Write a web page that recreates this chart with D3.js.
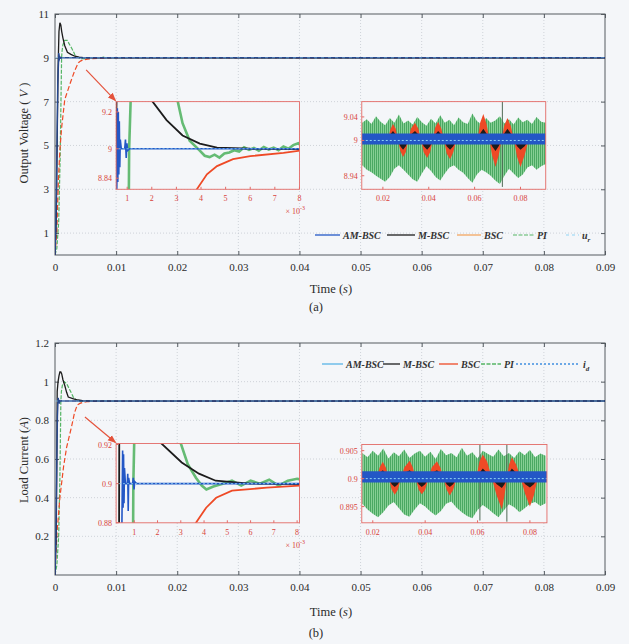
<!DOCTYPE html>
<html><head><meta charset="utf-8">
<script src="https://cdn.jsdelivr.net/npm/d3@7"></script>
<style>
html,body{margin:0;padding:0;background:#f4f6f9;}
svg{display:block;font-family:"Liberation Serif","Times New Roman",serif;}
</style></head><body>
<svg id="chart" width="629" height="644"></svg>
<script>
// ---------------- data ----------------
const timeTicks = [0, 0.01, 0.02, 0.03, 0.04, 0.05, 0.06, 0.07, 0.08, 0.09];
const timeTickLabels = ["0", "0.01", "0.02", "0.03", "0.04", "0.05", "0.06", "0.07", "0.08", "0.09"];
const voltTicks = [1, 3, 5, 7, 9, 11];
const voltTickLabels = ["1", "3", "5", "7", "9", "11"];
const currTicks = [0.2, 0.4, 0.6, 0.8, 1, 1.2];
const currTickLabels = ["0.2", "0.4", "0.6", "0.8", "1", "1.2"];
const seriesNames = ["AM-BSC", "M-BSC", "BSC", "PI"];

const voltRef = 9;     // u_r
const currRef = 0.9;   // i_d

// start-up transient of the output voltage (time in ms)
const vAmT  = [0, 0.15, 0.3, 0.45, 0.55, 0.58, 0.6, 0.62, 0.64, 0.66, 0.68, 0.7, 0.72, 0.76, 0.9, 0.93, 0.96, 0.99, 1.02, 1.1, 90];
const vAmV  = [0, 1.5, 4.5, 7.8, 8.6, 8.8, 9.22, 8.82, 9.2, 8.86, 9.15, 8.9, 9.05, 9.0, 9.0, 9.05, 8.95, 9.03, 8.99, 9.0, 9.0];
const vMT   = [0, 0.2, 0.35, 0.5, 0.65, 0.8, 0.95, 1.1, 1.3, 1.6, 2.03, 2.6, 3.25, 3.95, 4.65, 6.0, 8.0, 90];
const vMV   = [0, 1.5, 5.0, 8.5, 10.2, 10.6, 10.5, 10.2, 9.9, 9.55, 9.256, 9.156, 9.072, 9.028, 9.006, 9.0, 8.998, 9.0];
const vBscT = [0, 0.3, 0.55, 0.8, 1.1, 1.6, 2.5, 3.2, 3.83, 4.24, 4.65, 5.3, 6.0, 7.35, 8.05, 10, 90];
const vBscV = [0, 1.1, 3.4, 4.8, 5.85, 7.1, 7.85, 8.4, 8.78, 8.861, 8.906, 8.944, 8.96, 8.978, 8.99, 8.998, 9.0];
const vPiT  = [0, 0.3, 0.6, 0.85, 1.0, 1.08, 1.15, 1.3, 1.6, 2.0, 2.4, 2.8, 3.05, 3.25, 3.54, 3.95, 4.15, 4.35, 4.55, 4.75,
               4.95, 5.15, 5.35, 5.55, 5.75, 5.95, 6.15, 6.35, 6.55, 6.75, 6.95, 7.15, 7.35, 7.55, 7.75, 7.95, 8.2, 9, 90];
const vPiV  = [0, 0.3, 1.5, 4.5, 7.5, 9.0, 9.3, 9.6, 9.8, 9.8, 9.6, 9.4, 9.26, 9.139, 9.044, 8.99, 8.962, 8.955, 8.968, 8.952,
               8.974, 8.98, 8.992, 8.985, 9.008, 8.994, 9.004, 8.99, 9.01, 8.996, 9.006, 8.992, 9.012, 9.0, 9.02, 9.03, 9.0, 9.0, 9.0];

// start-up transient of the load current (time in ms)
const iAmT  = [0, 0.15, 0.3, 0.4, 0.47, 0.5, 0.52, 0.54, 0.56, 0.58, 0.62, 0.7, 0.72, 0.74, 0.76, 0.8, 0.93, 0.96, 0.99, 1.02, 1.1, 90];
const iAmV  = [0, 0.2, 0.6, 0.82, 0.88, 0.917, 0.8877, 0.915, 0.89, 0.908, 0.9, 0.9, 0.905, 0.886, 0.903, 0.9, 0.9, 0.903, 0.897, 0.901, 0.9, 0.9];
const iMT   = [0, 0.2, 0.3, 0.36, 0.5, 0.65, 0.8, 0.95, 1.1, 1.3, 1.6, 1.9, 2.17, 3.04, 3.78, 4.5, 5.96, 8.1, 90];
const iMV   = [0, 0.2, 0.6, 0.95, 1.0, 1.03, 1.05, 1.05, 1.04, 1.01, 0.98, 0.945, 0.9205, 0.9108, 0.9051, 0.9015, 0.9, 0.8998, 0.9];
const iBscT = [0, 0.3, 0.8, 1.4, 1.9, 2.7, 3.2, 3.65, 4.09, 4.52, 5.2, 6.7, 8.1, 10, 90];
const iBscV = [0, 0.207, 0.40, 0.56, 0.66, 0.766, 0.84, 0.88, 0.8877, 0.8928, 0.8964, 0.898, 0.899, 0.8998, 0.9];
const iPiT  = [0, 0.3, 0.6, 0.8, 0.9, 0.96, 1.05, 1.2, 1.5, 1.9, 2.3, 2.7, 3.0, 3.3, 3.65, 3.9, 4.1, 4.4, 4.8, 5.2,
               5.6, 6.0, 6.4, 6.8, 7.2, 7.6, 8.0, 9, 90];
const iPiV  = [0, 0.05, 0.2, 0.5, 0.75, 0.9, 0.95, 0.98, 1.0, 0.99, 0.965, 0.94, 0.9205, 0.91, 0.903, 0.899, 0.897, 0.8985, 0.9, 0.9015,
               0.899, 0.9015, 0.9, 0.902, 0.899, 0.9015, 0.9025, 0.9, 0.9];

// steady-state ripple of the output voltage (time in s)
const vSsT = [0.011, 0.013, 0.015, 0.017, 0.019, 0.021, 0.023, 0.025, 0.027, 0.029, 0.031, 0.033, 0.035, 0.037, 0.039, 0.041,
              0.043, 0.045, 0.047, 0.049, 0.051, 0.053, 0.055, 0.057, 0.059, 0.061, 0.063, 0.065, 0.067, 0.069, 0.071, 0.073,
              0.075, 0.077, 0.079, 0.081, 0.083, 0.085, 0.087, 0.089, 0.091];
const vPiHi = [9.030, 9.036, 9.028, 9.041, 9.032, 9.026, 9.038, 9.030, 9.044, 9.029, 9.034, 9.027, 9.040, 9.031, 9.025, 9.037,
               9.029, 9.043, 9.030, 9.035, 9.026, 9.039, 9.031, 9.028, 9.046, 9.033, 9.027, 9.038, 9.030, 9.034, 9.041, 9.029,
               9.036, 9.027, 9.039, 9.031, 9.035, 9.028, 9.040, 9.032, 9.030];
const vPiLo = [8.958, 8.950, 8.946, 8.940, 8.935, 8.930, 8.938, 8.952, 8.958, 8.950, 8.942, 8.934, 8.930, 8.944, 8.956, 8.948,
               8.938, 8.932, 8.944, 8.954, 8.958, 8.950, 8.945, 8.936, 8.928, 8.942, 8.950, 8.946, 8.940, 8.932, 8.926, 8.940,
               8.952, 8.944, 8.936, 8.942, 8.954, 8.958, 8.950, 8.956, 8.960];
const vPiSpikeT = [0.0721];
const vPiSpikeLo = [8.921];
const vPiSpikeHi = [9.066];
const vOscT = [0.0108, 0.0222, 0.0232, 0.0244, 0.0256, 0.0266, 0.0276, 0.0288, 0.0300, 0.031, 0.0322, 0.034, 0.0355, 0.0366,
               0.0378, 0.0393, 0.0406, 0.0417, 0.0428, 0.0441, 0.0455, 0.0467, 0.0478, 0.0493, 0.0507, 0.052, 0.0612, 0.0624,
               0.0638, 0.0652, 0.0665, 0.0676, 0.0691, 0.0705, 0.0717, 0.0729, 0.0743, 0.0758, 0.0772, 0.0785, 0.080, 0.0818,
               0.0835, 0.091];
const vBscSs = [9, 9, 9.018, 9.028, 9.02, 9, 8.982, 8.972, 8.98, 9, 9.02, 9.03, 9.02, 9, 8.98, 8.970, 8.98, 9, 9.022, 9.032,
                9.02, 9, 8.978, 8.968, 8.98, 9, 9, 9.03, 9.045, 9.028, 9, 8.975, 8.955, 8.975, 9, 9.025, 9.038, 9.024, 9,
                8.972, 8.955, 8.975, 9, 9];
const vMSs   = [9, 9, 9.01, 9.016, 9.01, 9, 8.99, 8.984, 8.99, 9, 9.01, 9.016, 9.01, 9, 8.99, 8.984, 8.99, 9, 9.01, 9.016,
                9.01, 9, 8.99, 8.984, 8.99, 9, 9, 9.012, 9.02, 9.012, 9, 8.99, 8.982, 8.99, 9, 9.012, 9.02, 9.012, 9,
                8.99, 8.984, 8.99, 9, 9];
const vAmBandT = [0.0108, 0.091];
const vAmBandLo = [8.993, 8.993];
const vAmBandHi = [9.012, 9.012];

// steady-state ripple of the load current (time in s)
const iSsT = [0.016, 0.018, 0.020, 0.022, 0.024, 0.026, 0.028, 0.030, 0.032, 0.034, 0.036, 0.038, 0.040, 0.042, 0.044, 0.046,
              0.048, 0.050, 0.052, 0.054, 0.056, 0.058, 0.060, 0.062, 0.064, 0.066, 0.068, 0.070, 0.072, 0.074, 0.076, 0.078,
              0.080, 0.082, 0.084, 0.086];
const iPiHi = [0.9046, 0.9038, 0.9050, 0.9041, 0.9054, 0.9036, 0.9047, 0.9040, 0.9052, 0.9037, 0.9045, 0.9050, 0.9039, 0.9048,
               0.9035, 0.9053, 0.9042, 0.9046, 0.9038, 0.9055, 0.9041, 0.9047, 0.9036, 0.9050, 0.9044, 0.9039, 0.9052, 0.9040,
               0.9046, 0.9037, 0.9049, 0.9042, 0.9051, 0.9038, 0.9045, 0.9041];
const iPiLo = [0.8955, 0.8945, 0.8937, 0.8931, 0.8940, 0.8952, 0.8958, 0.8947, 0.8936, 0.8932, 0.8945, 0.8956, 0.8950, 0.8941,
               0.8934, 0.8942, 0.8955, 0.8959, 0.8948, 0.8940, 0.8933, 0.8929, 0.8944, 0.8953, 0.8946, 0.8938, 0.8931, 0.8943,
               0.8954, 0.8949, 0.8940, 0.8947, 0.8955, 0.8958, 0.8951, 0.8956];
const iPiSpikeT = [0.0609, 0.0712];
const iPiSpikeLo = [0.8925, 0.8923];
const iPiSpikeHi = [0.9061, 0.9061];
const iOscT = [0.0158, 0.0215, 0.0226, 0.0238, 0.0250, 0.0261, 0.0272, 0.0284, 0.0296, 0.0307, 0.0320, 0.0341, 0.0353, 0.0364,
               0.0375, 0.0387, 0.0400, 0.0413, 0.0425, 0.0445, 0.0458, 0.047, 0.0482, 0.0494, 0.0507, 0.052, 0.0595, 0.0607,
               0.0620, 0.0637, 0.0655, 0.0673, 0.0693, 0.0703, 0.0712, 0.0720, 0.0731, 0.0748, 0.0765, 0.0782, 0.0800, 0.0815,
               0.0830, 0.0865];
const iBscSs = [0.9, 0.9, 0.902, 0.903, 0.902, 0.9, 0.898, 0.8971, 0.898, 0.9, 0.902, 0.9032, 0.902, 0.9, 0.898, 0.8972, 0.898,
                0.9, 0.902, 0.9031, 0.902, 0.9, 0.898, 0.897, 0.898, 0.9, 0.9, 0.903, 0.9043, 0.903, 0.9, 0.897, 0.8945, 0.897,
                0.9, 0.9025, 0.9038, 0.9025, 0.9, 0.8972, 0.895, 0.897, 0.9, 0.9];
const iMSs   = [0.9, 0.9, 0.901, 0.9015, 0.901, 0.9, 0.899, 0.8985, 0.899, 0.9, 0.901, 0.9015, 0.901, 0.9, 0.899, 0.8985, 0.899,
                0.9, 0.901, 0.9015, 0.901, 0.9, 0.899, 0.8985, 0.899, 0.9, 0.9, 0.901, 0.9018, 0.901, 0.9, 0.899, 0.8983, 0.899,
                0.9, 0.901, 0.9018, 0.901, 0.9, 0.899, 0.8984, 0.899, 0.9, 0.9];
const iAmBandT = [0.0158, 0.0865];
const iAmBandLo = [0.8993, 0.8993];
const iAmBandHi = [0.9013, 0.9013];

// zoom-inset axes
const zoomTicksMs = [0.001, 0.002, 0.003, 0.004, 0.005, 0.006, 0.007, 0.008];
const zoomTickLabelsMs = ["1", "2", "3", "4", "5", "6", "7", "8"];
const rippleTicks = [0.02, 0.04, 0.06, 0.08];
const rippleTickLabels = ["0.02", "0.04", "0.06", "0.08"];
const vZoomTicks = [8.84, 9, 9.2];
const vZoomTickLabels = ["8.84", "9", "9.2"];
const vRippleTicks = [8.94, 9, 9.04];
const vRippleTickLabels = ["8.94", "9", "9.04"];
const iZoomTicks = [0.88, 0.9, 0.92];
const iZoomTickLabels = ["0.88", "0.9", "0.92"];
const iRippleTicks = [0.895, 0.9, 0.905];
const iRippleTickLabels = ["0.895", "0.9", "0.905"];

// ---------------- styles ----------------
const C = {
  am: "#2357c6", amLegendB: "#59b3e6", m: "#1c1c1c", bsc: "#ee4a26", bscLegendA: "#f3a660",
  pi: "#55b565", ref: "#8fd4f5", refB: "#3f8fe0", axis: "#555b61", grid: "#c5cad0",
  box: "#e36a66", boxText: "#d8433a", text: "#2b2b2b"
};

const svg = d3.select("#chart");
const defs = svg.append("defs");
defs.append("marker").attr("id", "arrowRed").attr("viewBox", "0 0 10 10")
  .attr("refX", 9).attr("refY", 5).attr("markerWidth", 7).attr("markerHeight", 7)
  .attr("orient", "auto")
  .append("path").attr("d", "M0,1 L10,5 L0,9 Z").attr("fill", "#e4533c");
// dense PI ripple rendered as fine vertical streaks
const hatch = defs.append("pattern").attr("id", "piHatch").attr("width", 2).attr("height", 7)
  .attr("patternUnits", "userSpaceOnUse");
hatch.append("rect").attr("width", 2).attr("height", 7).attr("fill", "#86cf94");
hatch.append("rect").attr("width", 1).attr("height", 7).attr("fill", "#4aa862");

const zip = (t, v, k = 1) => t.map((d, i) => [d / k, v[i]]);

function addClip(id, x0, y0, x1, y1) {
  defs.append("clipPath").attr("id", id).append("rect")
    .attr("x", x0).attr("y", y0).attr("width", x1 - x0).attr("height", y1 - y0);
  return `url(#${id})`;
}

// ---------------- main panel ----------------
function drawPanel(p) {
  const x = d3.scaleLinear().domain([0, 0.09]).range([p.left, p.right]);
  const y = d3.scaleLinear().domain(p.yDomain).range([p.bottom, p.top]);
  const g = svg.append("g");

  // grid
  g.append("g").selectAll("line").data(timeTicks.slice(1, -1)).join("line")
    .attr("x1", d => x(d)).attr("x2", d => x(d)).attr("y1", p.top).attr("y2", p.bottom)
    .attr("stroke", C.grid).attr("stroke-dasharray", "1,2").attr("stroke-width", 0.8);
  g.append("g").selectAll("line").data(p.yTicks.filter(d => d < p.yDomain[1])).join("line")
    .attr("x1", p.left).attr("x2", p.right).attr("y1", d => y(d)).attr("y2", d => y(d))
    .attr("stroke", C.grid).attr("stroke-dasharray", "1,2").attr("stroke-width", 0.8);

  // axes with inward ticks
  const styleAxis = a => {
    a.select(".domain").remove();
    a.selectAll("line").attr("stroke", C.axis);
    a.selectAll("text").attr("fill", C.text).attr("font-size", 11)
      .attr("font-family", '"Liberation Serif","Times New Roman",serif');
  };
  g.append("g").attr("transform", `translate(0,${p.bottom})`)
    .call(d3.axisBottom(x).tickValues(timeTicks).tickFormat((d, i) => timeTickLabels[i])
      .tickSizeInner(-4).tickSizeOuter(0).tickPadding(8)).call(styleAxis);
  g.append("g").attr("transform", `translate(0,${p.top})`)
    .call(d3.axisTop(x).tickValues(timeTicks).tickFormat("").tickSizeInner(-4).tickSizeOuter(0)).call(styleAxis);
  g.append("g").attr("transform", `translate(${p.left},0)`)
    .call(d3.axisLeft(y).tickValues(p.yTicks).tickFormat((d, i) => p.yTickLabels[i])
      .tickSizeInner(-4).tickSizeOuter(0).tickPadding(6)).call(styleAxis);
  g.append("g").attr("transform", `translate(${p.right},0)`)
    .call(d3.axisRight(y).tickValues(p.yTicks).tickFormat("").tickSizeInner(-4).tickSizeOuter(0)).call(styleAxis);
  g.append("rect").attr("x", p.left).attr("y", p.top).attr("width", p.right - p.left)
    .attr("height", p.bottom - p.top).attr("fill", "none").attr("stroke", C.axis).attr("stroke-width", 1);

  // curves
  const clip = addClip(p.id + "-main", p.left, p.top, p.right, p.bottom);
  const line = d3.line().x(d => x(d[0])).y(d => y(d[1]));
  const lg = g.append("g").attr("clip-path", clip).attr("fill", "none");
  lg.append("path").attr("d", line(zip(p.pi[0], p.pi[1], 1000))).attr("stroke", C.pi)
    .attr("stroke-width", 1.2).attr("stroke-dasharray", "4,1.5");
  lg.append("path").attr("d", line(zip(p.bsc[0], p.bsc[1], 1000))).attr("stroke", C.bsc)
    .attr("stroke-width", 1.2).attr("stroke-dasharray", "5,2.5");
  lg.append("path").attr("d", line(zip(p.m[0], p.m[1], 1000))).attr("stroke", C.m).attr("stroke-width", 1.3);
  lg.append("path").attr("d", line(zip(p.am[0], p.am[1], 1000))).attr("stroke", "#27488f").attr("stroke-width", 1.4);
  lg.append("path").attr("d", line([[0, p.ref], [0.09, p.ref]])).attr("stroke", C.ref)
    .attr("stroke-width", 0.8).attr("stroke-dasharray", "3,4").attr("opacity", 0.7);

  // arrow pointing to the start-up zoom
  g.append("line")
    .attr("x1", x(p.arrow.from[0])).attr("y1", y(p.arrow.from[1]))
    .attr("x2", x(p.arrow.to[0])).attr("y2", y(p.arrow.to[1]))
    .attr("stroke", "#e4533c").attr("stroke-width", 1.2).attr("marker-end", "url(#arrowRed)");

  // insets (placed on the main axes' data grid)
  p.insets.forEach(ins => {
    const bx0 = x(ins.at[0]), bx1 = x(ins.at[1]), by0 = y(ins.at[3]), by1 = y(ins.at[2]);
    const xi = d3.scaleLinear().domain(ins.xDomain).range([bx0, bx1]);
    const yi = d3.scaleLinear().domain(ins.yDomain).range([by1, by0]);
    const ig = g.append("g");
    ig.append("rect").attr("x", bx0).attr("y", by0).attr("width", bx1 - bx0).attr("height", by1 - by0)
      .attr("fill", "#f4f6f9");
    const cl = addClip(ins.id, bx0, by0, bx1, by1);
    const dg = ig.append("g").attr("clip-path", cl);
    ins.draw(dg, xi, yi);
    ig.append("rect").attr("x", bx0).attr("y", by0).attr("width", bx1 - bx0).attr("height", by1 - by0)
      .attr("fill", "none").attr("stroke", C.box).attr("stroke-width", 0.9);
    // ticks
    ig.append("g").selectAll("line").data(ins.xTicks).join("line")
      .attr("x1", d => xi(d)).attr("x2", d => xi(d)).attr("y1", by1).attr("y2", by1 - 2.5)
      .attr("stroke", C.box);
    ig.append("g").selectAll("line").data(ins.yTicks).join("line")
      .attr("x1", bx0).attr("x2", bx0 + 2.5).attr("y1", d => yi(d)).attr("y2", d => yi(d))
      .attr("stroke", C.box);
    ig.append("g").selectAll("text").data(ins.xTicks).join("text")
      .attr("x", d => xi(d)).attr("y", by1 + 12).attr("text-anchor", "middle")
      .attr("font-size", 8).attr("fill", C.boxText).text((d, i) => ins.xTickLabels[i]);
    ig.append("g").selectAll("text").data(ins.yTicks).join("text")
      .attr("x", bx0 - 4).attr("y", d => yi(d) + 3).attr("text-anchor", "end")
      .attr("font-size", 8).attr("fill", C.boxText).text((d, i) => ins.yTickLabels[i]);
    if (ins.exponent) {
      const t = ig.append("text").attr("x", bx1 - 14).attr("y", by1 + 25)
        .attr("font-size", 8).attr("fill", C.boxText);
      t.append("tspan").text("\u00d7 10");
      t.append("tspan").attr("dy", -4).attr("font-size", 6).text("-3");
    }
  });
  return { x, y, g };
}

// inset drawing helpers
function drawTransient(series) {
  return (g, x, y) => {
    const line = d3.line().x(d => x(d[0])).y(d => y(d[1]));
    g.append("path").attr("d", line(zip(series.pi[0], series.pi[1], 1000))).attr("fill", "none")
      .attr("stroke", C.pi).attr("stroke-width", 2.6).attr("opacity", 0.9);
    g.append("path").attr("d", line(zip(series.m[0], series.m[1], 1000))).attr("fill", "none")
      .attr("stroke", C.m).attr("stroke-width", 1.8);
    g.append("path").attr("d", line(zip(series.bsc[0], series.bsc[1], 1000))).attr("fill", "none")
      .attr("stroke", C.bsc).attr("stroke-width", 1.8);
    g.append("path").attr("d", line(zip(series.am[0], series.am[1], 1000))).attr("fill", "none")
      .attr("stroke", C.am).attr("stroke-width", 1.6);
    g.append("path").attr("d", line([[0, series.ref], [0.01, series.ref]])).attr("fill", "none")
      .attr("stroke", C.ref).attr("stroke-width", 0.8).attr("stroke-dasharray", "2,2");
  };
}
function drawRipple(s) {
  return (g, x, y) => {
    const band = (t, lo, hi) => d3.area().x((d, i) => x(t[i])).y0((d, i) => y(lo[i])).y1((d, i) => y(hi[i]))(t);
    g.append("path").attr("d", band(s.piT, s.piLo, s.piHi)).attr("fill", "url(#piHatch)");
    g.append("g").selectAll("line").data(s.spikeT).join("line")
      .attr("x1", d => x(d)).attr("x2", d => x(d))
      .attr("y1", (d, i) => y(s.spikeLo[i])).attr("y2", (d, i) => y(s.spikeHi[i]))
      .attr("stroke", "#4f6a55").attr("stroke-width", 1);
    const osc = v => d3.area().x((d, i) => x(s.oscT[i])).y0(y(s.ref)).y1((d, i) => y(v[i]))(s.oscT);
    g.append("path").attr("d", osc(s.bsc)).attr("fill", C.bsc);
    g.append("path").attr("d", osc(s.m)).attr("fill", C.m);
    g.append("path").attr("d", band(s.amT, s.amLo, s.amHi)).attr("fill", C.am);
    g.append("line").attr("x1", x(s.amT[0])).attr("x2", x(s.amT[1]))
      .attr("y1", y(s.ref)).attr("y2", y(s.ref))
      .attr("stroke", C.ref).attr("stroke-width", 1).attr("stroke-dasharray", "2,2");
  };
}

// ---------------- panel (a): output voltage ----------------
const vSeries = { am: [vAmT, vAmV], m: [vMT, vMV], bsc: [vBscT, vBscV], pi: [vPiT, vPiV], ref: voltRef };
drawPanel({
  id: "pa", left: 55, right: 605, top: 14, bottom: 255, yDomain: [0, 11],
  yTicks: voltTicks, yTickLabels: voltTickLabels, ...vSeries,
  arrow: { from: [0.0051, 8.45], to: [0.0099, 7.05] },
  insets: [
    { id: "pa-z1", at: [0.01, 0.04, 3, 7], xDomain: [0.00055, 0.008], yDomain: [8.78, 9.256],
      xTicks: zoomTicksMs, xTickLabels: zoomTickLabelsMs, yTicks: vZoomTicks, yTickLabels: vZoomTickLabels,
      exponent: true, draw: drawTransient(vSeries) },
    { id: "pa-z2", at: [0.0502, 0.0803, 3, 7], xDomain: [0.0108, 0.091], yDomain: [8.917, 9.066],
      xTicks: rippleTicks, xTickLabels: rippleTickLabels, yTicks: vRippleTicks, yTickLabels: vRippleTickLabels,
      draw: drawRipple({ piT: vSsT, piLo: vPiLo, piHi: vPiHi, spikeT: vPiSpikeT, spikeLo: vPiSpikeLo, spikeHi: vPiSpikeHi,
        oscT: vOscT, bsc: vBscSs, m: vMSs, amT: vAmBandT, amLo: vAmBandLo, amHi: vAmBandHi, ref: voltRef }) }
  ]
});

// ---------------- panel (b): load current ----------------
const iSeries = { am: [iAmT, iAmV], m: [iMT, iMV], bsc: [iBscT, iBscV], pi: [iPiT, iPiV], ref: currRef };
drawPanel({
  id: "pb", left: 55, right: 605, top: 343, bottom: 575, yDomain: [0, 1.2],
  yTicks: currTicks, yTickLabels: currTickLabels, ...iSeries,
  arrow: { from: [0.0049, 0.817], to: [0.0099, 0.685] },
  insets: [
    { id: "pb-z1", at: [0.01, 0.04, 0.27, 0.68], xDomain: [0.00022, 0.0081], yDomain: [0.88, 0.9205],
      xTicks: zoomTicksMs, xTickLabels: zoomTickLabelsMs, yTicks: iZoomTicks, yTickLabels: iZoomTickLabels,
      exponent: true, draw: drawTransient(iSeries) },
    { id: "pb-z2", at: [0.0502, 0.0805, 0.27, 0.675], xDomain: [0.0158, 0.0865], yDomain: [0.8921, 0.9061],
      xTicks: rippleTicks, xTickLabels: rippleTickLabels, yTicks: iRippleTicks, yTickLabels: iRippleTickLabels,
      draw: drawRipple({ piT: iSsT, piLo: iPiLo, piHi: iPiHi, spikeT: iPiSpikeT, spikeLo: iPiSpikeLo, spikeHi: iPiSpikeHi,
        oscT: iOscT, bsc: iBscSs, m: iMSs, amT: iAmBandT, amLo: iAmBandLo, amHi: iAmBandHi, ref: currRef }) }
  ]
});

// ---------------- legends ----------------
function legend(yPos, items) {
  const g = svg.append("g");
  items.forEach(it => {
    g.append("line").attr("x1", it.x1).attr("x2", it.x2).attr("y1", yPos).attr("y2", yPos)
      .attr("stroke", it.color).attr("stroke-width", it.w || 1.3).attr("stroke-dasharray", it.dash || null);
    const t = g.append("text").attr("x", it.x2 + 3).attr("y", yPos + 3.5).attr("font-size", 10)
      .attr("font-style", "italic").attr("font-weight", "bold").attr("fill", "#333");
    t.append("tspan").text(it.label);
    if (it.sub) t.append("tspan").attr("dy", 3).attr("font-size", 7).text(it.sub);
  });
}
legend(235, [
  { label: seriesNames[0], color: C.am, x1: 315, x2: 340 },
  { label: seriesNames[1], color: C.m, x1: 387, x2: 415 },
  { label: seriesNames[2], color: C.bscLegendA, x1: 457, x2: 481 },
  { label: seriesNames[3], color: C.pi, x1: 513, x2: 534, dash: "4,1.5", w: 1 },
  { label: "u", sub: "r", color: C.ref, x1: 566, x2: 579, dash: "3,3", w: 1 }
]);
legend(364, [
  { label: seriesNames[0], color: C.amLegendB, x1: 322, x2: 343 },
  { label: seriesNames[1], color: C.m, x1: 383, x2: 400 },
  { label: seriesNames[2], color: C.bsc, x1: 439, x2: 458 },
  { label: seriesNames[3], color: C.pi, x1: 481, x2: 501, dash: "4,1.5" },
  { label: "i", sub: "d", color: C.refB, x1: 516, x2: 580, dash: "2,2" }
]);

// ---------------- axis titles ----------------
function yTitle(cx, cy, parts) {
  const t = svg.append("text").attr("transform", `translate(${cx},${cy}) rotate(-90)`)
    .attr("text-anchor", "middle").attr("font-size", 12.5).attr("fill", C.text);
  parts.forEach(p => t.append("tspan").attr("font-style", p[1] ? "italic" : "normal").text(p[0]));
}
function xTitle(cx, cy, parts) {
  const t = svg.append("text").attr("x", cx).attr("y", cy).attr("text-anchor", "middle")
    .attr("font-size", 12.5).attr("fill", C.text);
  parts.forEach(p => t.append("tspan").attr("font-style", p[1] ? "italic" : "normal").text(p[0]));
}
yTitle(28, 133, [["Output Voltage ( ", false], ["V", true], [" )", false]]);
yTitle(28, 460, [["Load Current (", false], ["A", true], [")", false]]);
xTitle(331, 293, [["Time (", false], ["s", true], [")", false]]);
xTitle(316, 311, [["(a)", false]]);
xTitle(331, 616, [["Time (", false], ["s", true], [")", false]]);
xTitle(316, 637, [["(b)", false]]);
</script>
</body></html>
